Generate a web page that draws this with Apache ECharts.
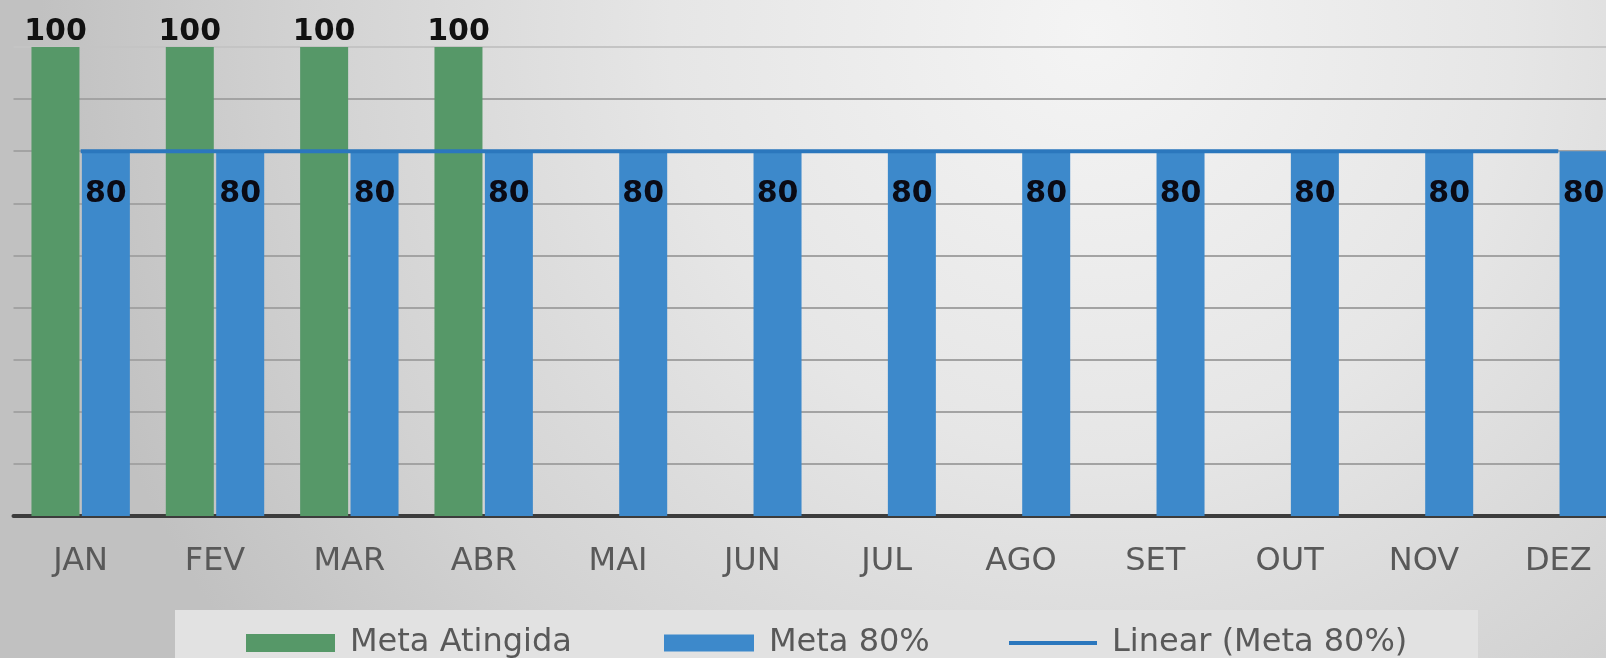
<!DOCTYPE html>
<html>
<head>
<meta charset="utf-8">
<script src="https://cdn.jsdelivr.net/npm/echarts@6/dist/echarts.min.js"></script>
<style>
html,body{margin:0;padding:0;width:1606px;height:658px;overflow:hidden;}
#c{width:1630px;height:658px;}
</style>
</head>
<body>
<div id="c"></div>
<script>
const categories = ['JAN','FEV','MAR','ABR','MAI','JUN','JUL','AGO','SET','OUT','NOV','DEZ'];
const metaAtingida = [100,100,100,100,null,null,null,null,null,null,null,null];
const meta80 = [80,80,80,80,80,80,80,80,80,80,80,80];
const linearMeta80 = [80,80,80,80,80,80,80,80,80,80,80,80];
const seriesNames = ['Meta Atingida','Meta 80%','Linear (Meta 80%)'];

const chart = echarts.init(document.getElementById('c'));
const font = 'DejaVu Sans';
const legendText = {fontFamily: font, fontSize: 32, color: '#595959', padding:[0,0,0,10]};
chart.setOption({
  backgroundColor: {
    type: 'radial', x: 0.67, y: 0.05, r: 1.6,
    colorStops: [
      {offset: 0, color: '#f4f4f4'},
      {offset: 0.4, color: '#e6e6e6'},
      {offset: 0.75, color: '#d2d2d2'},
      {offset: 1, color: '#c1c1c1'}
    ]
  },
  animation: false,
  graphic: [{
    type: 'rect', left: 175, top: 610, z: -1,
    shape: {width: 1303, height: 60},
    style: {fill: '#e2e2e2'}
  }],
  grid: {left: 13.5, width: 1612, top: 47, bottom: 142, containLabel: false},
  xAxis: {
    type: 'category', data: categories,
    axisLine: {lineStyle: {color: '#3c3c3c', width: 4}},
    axisTick: {show: false},
    axisLabel: {fontFamily: font, fontSize: 32, color: '#595959', margin: 30}
  },
  yAxis: {
    type: 'value', min: 10, max: 100, interval: 10,
    axisLabel: {show: false}, axisLine: {show: false}, axisTick: {show: false},
    splitLine: {lineStyle: {color: ['#a3a3a3','#a3a3a3','#a3a3a3','#a3a3a3','#a3a3a3','#a3a3a3','#a3a3a3','#a3a3a3','#a3a3a3','#c4c4c4'], width: 2}}
  },
  legend: [
    {data: [seriesNames[0]], left: 241, top: 622, itemWidth: 89, itemHeight: 18, icon: 'rect', textStyle: legendText},
    {data: [seriesNames[1]], left: 659, top: 622, itemWidth: 90, itemHeight: 17, icon: 'rect', textStyle: legendText},
    {data: [seriesNames[2]], left: 1004, top: 622, itemWidth: 88, itemHeight: 4, icon: 'rect', textStyle: legendText}
  ],
  series: [
    {
      name: seriesNames[0], type: 'bar', data: metaAtingida,
      barWidth: 48, barGap: '5%',
      itemStyle: {color: '#569868'},
      label: {show: true, position: 'top', distance: 0, fontFamily: font, fontSize: 30, fontWeight: 'bold', color: '#111'}
    },
    {
      name: seriesNames[1], type: 'bar', data: meta80,
      barWidth: 48, barGap: '5%',
      itemStyle: {color: '#3d89cb'},
      label: {show: true, position: 'insideTop', distance: 28, fontFamily: font, fontSize: 30, fontWeight: 'bold', color: '#0a0a14'}
    },
    {
      name: seriesNames[2], type: 'line', data: linearMeta80,
      symbol: 'none', z: 5,
      lineStyle: {color: '#2b77bd', width: 4},
      itemStyle: {color: '#2b77bd'}
    }
  ]
});
</script>
</body>
</html>
